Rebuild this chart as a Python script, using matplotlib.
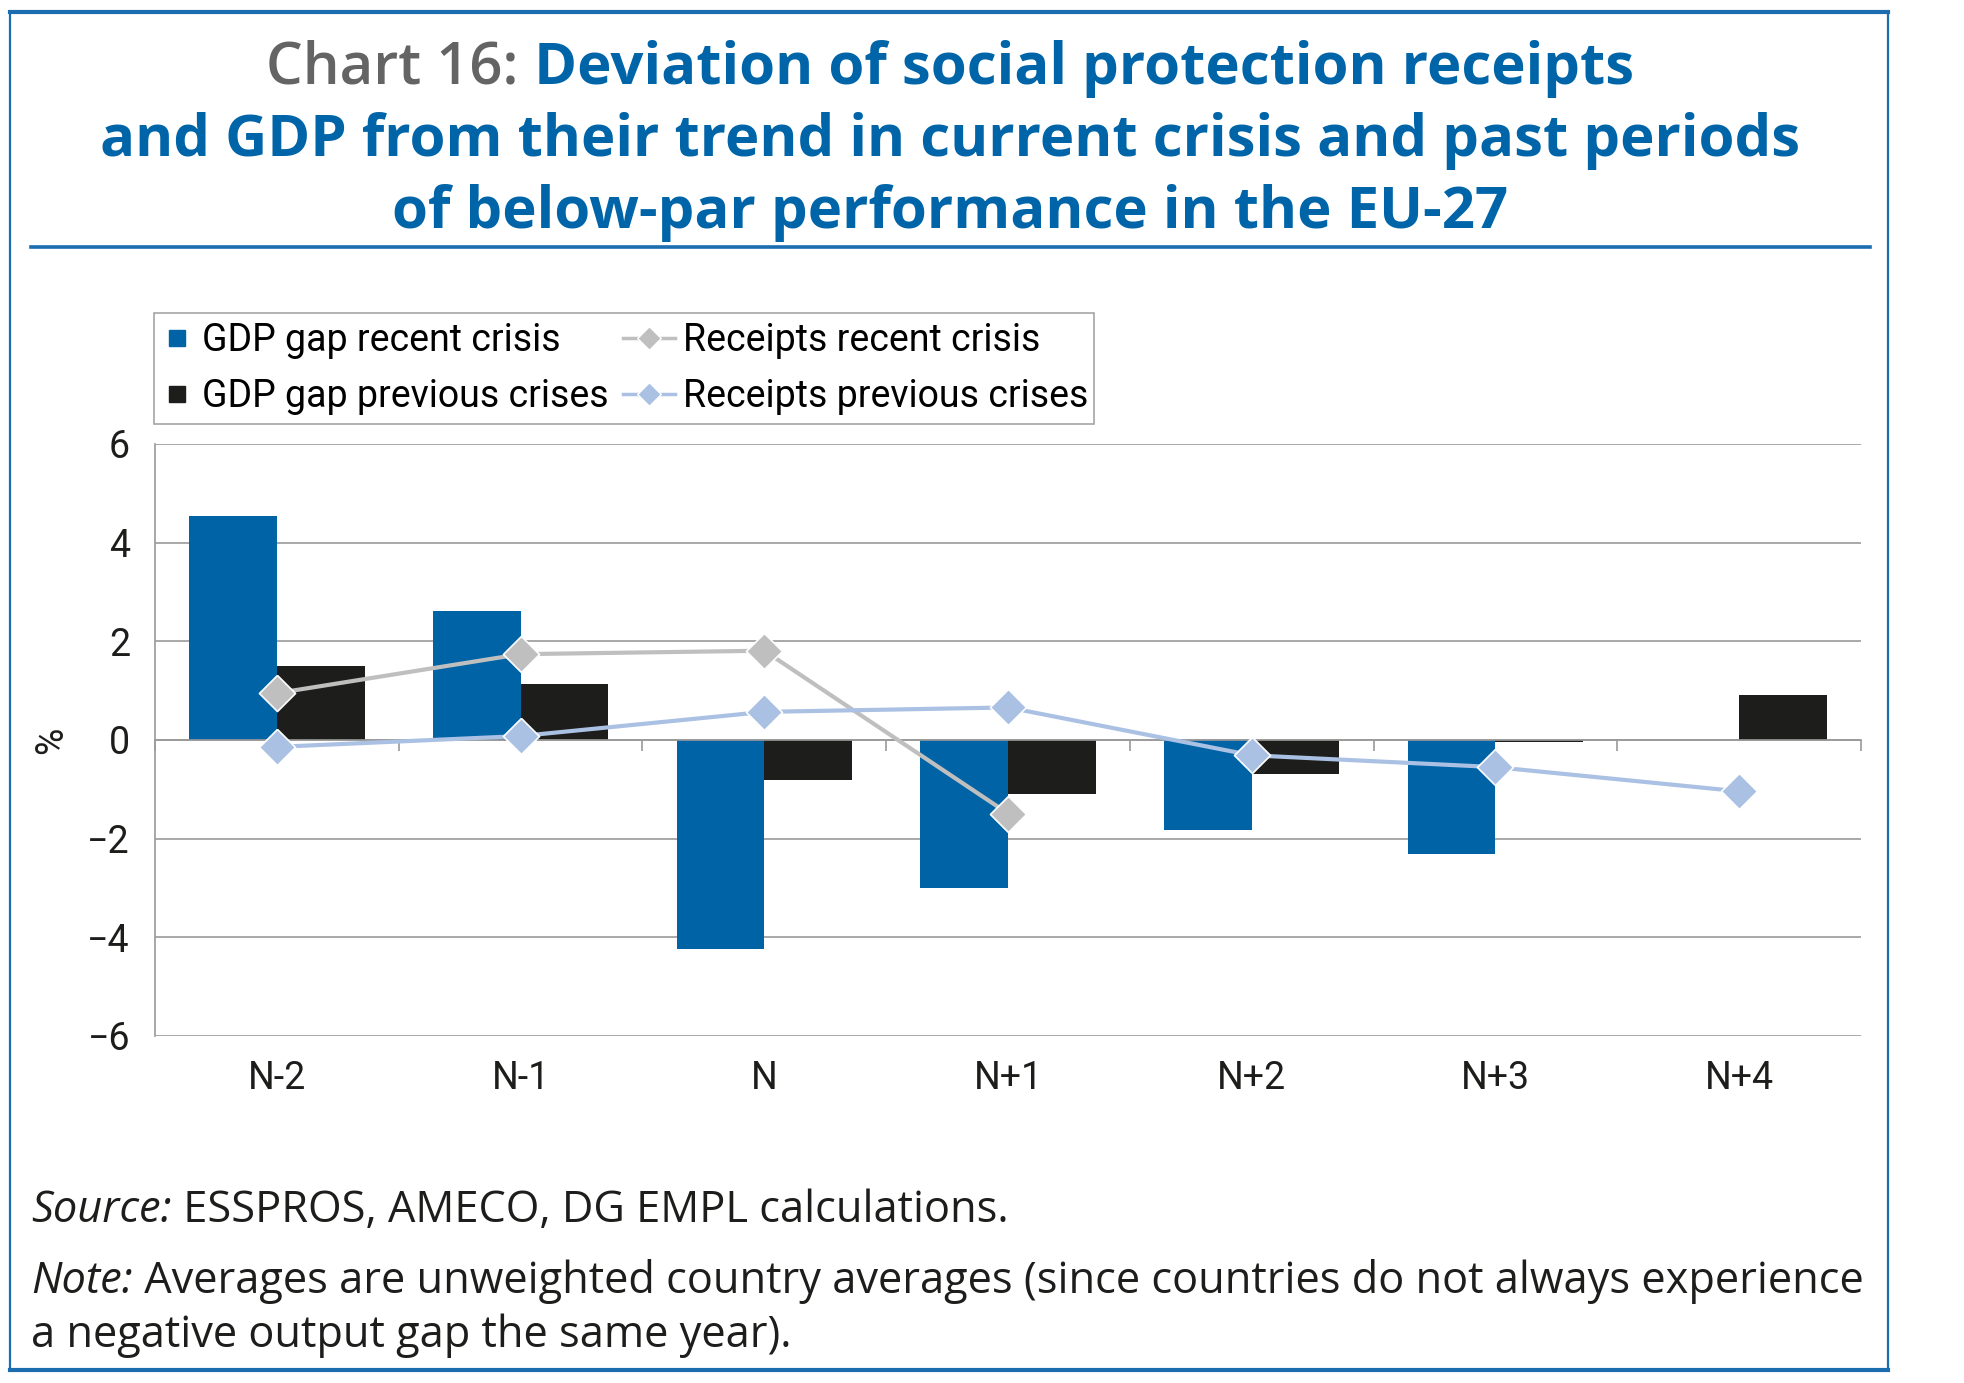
import numpy as np
import matplotlib
matplotlib.use("Agg")
import matplotlib.pyplot as plt
from matplotlib.lines import Line2D
from matplotlib.patches import Rectangle

categories = ["N-2", "N-1", "N", "N+1", "N+2", "N+3", "N+4"]
gdp_recent = [4.55, 2.62, -4.23, -3.00, -1.82, -2.31, np.nan]
gdp_previous = [1.50, 1.14, -0.81, -1.09, -0.68, -0.05, 0.92]
receipts_recent = [0.95, 1.74, 1.81, -1.49, np.nan, np.nan, np.nan]
receipts_previous = [-0.14, 0.08, 0.57, 0.66, -0.31, -0.55, -1.04]
y_ticks = [-6, -4, -2, 0, 2, 4, 6]

BLUE = "#0063a6"
BLACK = "#1d1d1b"
GREY_LINE = "#bfbfbf"
LIGHT_BLUE = "#aac1e3"
GRID = "#9a9a9a"
TITLE_BLUE = "#0065a8"
TITLE_GREY = "#646464"
FRAME = "#1b6db0"
TEXT = "#1d1d1b"

plt.rcParams["font.family"] = ["Roboto", "DejaVu Sans"]
HEAD_FONT = ["Open Sans", "DejaVu Sans"]

W, H = 1965, 1383
fig = plt.figure(figsize=(W / 100, H / 100), dpi=100)
fig.patch.set_facecolor("white")
renderer = fig.canvas.get_renderer()


def width_px(t):
    return t.get_window_extent(renderer).width


def place_pair(ta, tb, x_px, center=False):
    wa, wb = width_px(ta), width_px(tb)
    if center:
        x_px -= (wa + wb) / 2
    ta.set_x(x_px / W)
    tb.set_x((x_px + wa) / W)
    return wa + wb


# --- frame and title rule ---
fig.add_artist(Rectangle((10 / W, 1 - 1370 / H), 1878 / W, 1358 / H, transform=fig.transFigure,
                         fill=False, edgecolor=FRAME, linewidth=1.6))
fig.add_artist(Line2D([10 / W, 1888 / W], [1 - 12 / H] * 2, transform=fig.transFigure,
                      color=FRAME, linewidth=3))
fig.add_artist(Line2D([10 / W, 1888 / W], [1 - 1370 / H] * 2, transform=fig.transFigure,
                      color=FRAME, linewidth=3))
fig.add_artist(Line2D([31 / W, 1870 / W], [1 - 247 / H] * 2, transform=fig.transFigure,
                      color=FRAME, linewidth=2.6))

# --- title (size fitted to the width of the widest line) ---
tkw = dict(color=TITLE_BLUE, fontweight="bold", va="baseline", family=HEAD_FONT)
t1 = fig.text(0, 1 - 84 / H, "Chart 16:", color=TITLE_GREY, fontweight="semibold",
              va="baseline", family=HEAD_FONT)
t2 = fig.text(0, 1 - 84 / H, " Deviation of social protection receipts", **tkw)
t3 = fig.text(950 / W, 1 - 156 / H, "and GDP from their trend in current crisis and past periods",
              ha="center", **tkw)
t4 = fig.text(950 / W, 1 - 228 / H, "of below-par performance in the EU-27", ha="center", **tkw)
for t in (t1, t2, t3, t4):
    t.set_fontsize(40)
title_size = 40 * 1701 / width_px(t3)
for t in (t1, t2, t3, t4):
    t.set_fontsize(title_size)
place_pair(t1, t2, 950, center=True)

# --- chart ---
ax = fig.add_axes([155 / W, 1 - 1036 / H, 1706 / W, 592 / H])
x = np.arange(len(categories))
bw = 0.36
ax.bar(x - bw / 2, gdp_recent, bw, color=BLUE, zorder=2)
ax.bar(x + bw / 2, gdp_previous, bw, color=BLACK, zorder=2)

diamond = [(0, 1), (1, 0), (0, -1), (-1, 0), (0, 1)]
ax.plot(x, receipts_recent, color=GREY_LINE, lw=3, marker=diamond, ms=26,
        mfc=GREY_LINE, mec="white", mew=1.2, zorder=4)
ax.plot(x, receipts_previous, color=LIGHT_BLUE, lw=3, marker=diamond, ms=26,
        mfc=LIGHT_BLUE, mec="white", mew=1.2, zorder=4)

ax.set_xlim(-0.5, len(categories) - 0.5)
ax.set_ylim(-6, 6)
ax.set_yticks(y_ticks)
ax.yaxis.grid(True, color=GRID, linewidth=1.2)
ax.set_axisbelow(True)
ax.tick_params(axis="y", length=0, pad=18, labelsize=27, labelcolor=TEXT)

for side in ["top", "right"]:
    ax.spines[side].set_visible(False)
ax.spines["left"].set_color(GRID)
ax.spines["left"].set_linewidth(1.2)
ax.spines["bottom"].set_position(("data", 0))
ax.spines["bottom"].set_color(GRID)
ax.spines["bottom"].set_linewidth(1.2)
ax.set_xticks(np.arange(-0.5, len(categories), 1))
ax.tick_params(axis="x", direction="out", length=8, width=1.2, color=GRID, labelbottom=False)

sec = ax.secondary_xaxis("bottom")
sec.set_xticks(x, labels=categories)
sec.tick_params(length=0, pad=17, labelsize=27, labelcolor=TEXT)
sec.spines["bottom"].set_visible(False)

ax.set_ylabel("%", fontsize=27, color=TEXT)
ax.yaxis.set_label_coords(-0.05, 0.5)

# --- legend: two columns with their own handle widths inside one box ---
fig.add_artist(Rectangle((154 / W, 1 - 424 / H), 940 / W, 111 / H, transform=fig.transFigure,
                         facecolor="white", edgecolor="#a6a6a6", linewidth=1.2, zorder=5))
leg_y = 1 - 368.5 / H
common = dict(fontsize=27, frameon=False, loc="center left", borderaxespad=0, borderpad=0,
              labelspacing=0.5)
bar_handles = [Line2D([], [], ls="none", marker="s", ms=12, color=BLUE),
               Line2D([], [], ls="none", marker="s", ms=12, color=BLACK)]
leg1 = fig.legend(bar_handles, ["GDP gap recent crisis", "GDP gap previous crises"],
                  bbox_to_anchor=(168 / W, leg_y), handlelength=0.5, handletextpad=0.4, **common)
line_handles = [
    Line2D([], [], color=GREY_LINE, lw=2.5, marker=diamond, ms=17, mfc=GREY_LINE, mec="white"),
    Line2D([], [], color=LIGHT_BLUE, lw=2.5, marker=diamond, ms=17, mfc=LIGHT_BLUE, mec="white"),
]
leg2 = fig.legend(line_handles, ["Receipts recent crisis", "Receipts previous crises"],
                  bbox_to_anchor=(623 / W, leg_y), handlelength=1.4, handletextpad=0.2, **common)
leg1.set_zorder(6)
leg2.set_zorder(6)

# --- source and note (size fitted to the long note line) ---
nkw = dict(color=TEXT, va="baseline", family=HEAD_FONT)
s1 = fig.text(0, 1 - 1222 / H, "Source:", fontstyle="italic", **nkw)
s2 = fig.text(0, 1 - 1222 / H, " ESSPROS, AMECO, DG EMPL calculations.", **nkw)
n1 = fig.text(0, 1 - 1293 / H, "Note:", fontstyle="italic", **nkw)
n2 = fig.text(0, 1 - 1293 / H,
              " Averages are unweighted country averages (since countries do not always experience",
              **nkw)
n3 = fig.text(31 / W, 1 - 1347 / H, "a negative output gap the same year).", **nkw)
notes = (s1, s2, n1, n2, n3)
for t in notes:
    t.set_fontsize(28)
note_size = 28 * 1833 / place_pair(n1, n2, 31)
for t in notes:
    t.set_fontsize(note_size)
place_pair(s1, s2, 31)
place_pair(n1, n2, 31)

fig.savefig("out.png", dpi=100, facecolor="white")
